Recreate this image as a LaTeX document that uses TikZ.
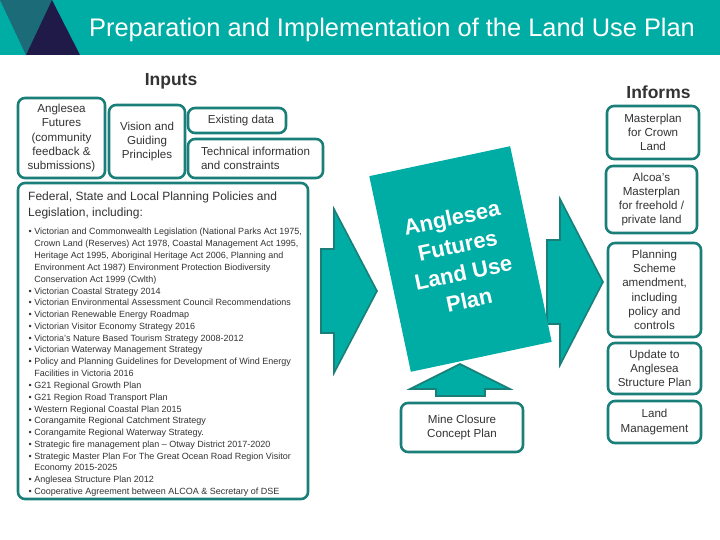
\documentclass[tikz,border=0pt]{standalone}
\usepackage{fontspec}
\setmainfont{Liberation Sans}
\usepackage{xcolor}
\usepackage{tikz}
\usetikzlibrary{shapes}
\usetikzlibrary{calc}
\definecolor{lutteal}{HTML}{00ADA5}
\definecolor{lutline}{HTML}{1A7F78}
\definecolor{lutdark}{HTML}{1B6B78}
\definecolor{lutnavy}{HTML}{1F1A47}
\definecolor{luttext}{HTML}{333333}
\newcommand{\fsz}[2]{\fontsize{#1}{#2}\selectfont}

\begin{document}
\begin{tikzpicture}[
  x=1pt, y=-1pt,
  inbox/.style 2 args={
    rectangle,
    rounded corners=7pt,
    draw=lutline,
    line width=2.6pt,
    fill=white,
    text=luttext,
    align=center,
    inner sep=0pt,
    font=\fsz{11.6}{14.3},
    minimum width=#1,
    minimum height=#2},
  blk/.style={
    fill=lutteal,
    draw=lutline,
    line width=1.6pt,
    line join=miter},
  colhead/.style={
    font=\fsz{17.5}{20}\bfseries,
    text=luttext},
]

  \useasboundingbox (0,0) rectangle (720,540);

  % Title band
  \fill[lutteal] (0,0) rectangle (720,55);
  \fill[lutdark] (0,0) -- (52,0) -- (26,55) -- cycle;
  \fill[lutnavy] (52,0) -- (80,55) -- (26,55) -- cycle;
  \node[anchor=base west, text=white, font=\fsz{25.4}{30}, inner sep=0pt]
      (title) at (89,37) {Preparation and Implementation of the Land Use Plan};

  % Inputs
  \node[colhead] (inputs) at (171,81) {Inputs};
  \node[inbox={87pt}{80pt}] (futures) at (61.5,138)
      {Anglesea\\Futures\\(community\\feedback \&\\submissions)};
  \node[inbox={76pt}{73pt}] (vision) at (147,141.5)
      {Vision and\\Guiding\\Principles};
  \node[inbox={98pt}{25pt}] (existing) at (237,120.5) {\hspace{8pt}Existing data};
  \node[inbox={135pt}{39pt}, align=left] (technical) at (255.5,158.5)
      {Technical information\\and constraints};

  \node[inbox={290pt}{316pt}] (fedbox) at (163,341) {};
  \node[anchor=base west, text=luttext, align=left, font=\fsz{12}{17}, inner sep=0pt]
      (fedhead) at (28,217)
      {Federal, State and Local Planning Policies and\\Legislation, including:};
  \node[anchor=base west, text=luttext, inner sep=0pt] (fedlist) at (28.5,235) {%
    \fsz{9}{11.8}%
    \begin{tabular}[t]{@{}l@{\hspace{2.5pt}}l@{}}
    \textbullet & Victorian and Commonwealth Legislation (National Parks Act 1975,\\
      & Crown Land (Reserves) Act 1978, Coastal Management Act 1995,\\
      & Heritage Act 1995, Aboriginal Heritage Act 2006, Planning and\\
      & Environment Act 1987) Environment Protection Biodiversity\\
      & Conservation Act 1999 (Cwlth)\\
    \textbullet & Victorian Coastal Strategy 2014\\
    \textbullet & Victorian Environmental Assessment Council Recommendations\\
    \textbullet & Victorian Renewable Energy Roadmap\\
    \textbullet & Victorian Visitor Economy Strategy 2016\\
    \textbullet & Victoria's Nature Based Tourism Strategy 2008-2012\\
    \textbullet & Victorian Waterway Management Strategy\\
    \textbullet & Policy and Planning Guidelines for Development of Wind Energy\\
      & Facilities in Victoria 2016\\
    \textbullet & G21 Regional Growth Plan\\
    \textbullet & G21 Region Road Transport Plan\\
    \textbullet & Western Regional Coastal Plan 2015\\
    \textbullet & Corangamite Regional Catchment Strategy\\
    \textbullet & Corangamite Regional Waterway Strategy.\\
    \textbullet & Strategic fire management plan -- Otway District 2017-2020\\
    \textbullet & Strategic Master Plan For The Great Ocean Road Region Visitor\\
      & Economy 2015-2025\\
    \textbullet & Anglesea Structure Plan 2012\\
    \textbullet & Cooperative Agreement between ALCOA \& Secretary of DSE
    \end{tabular}};

  % Block arrows
  \draw[blk] (321,249) -- (334,249) -- (334,209) -- (377,291)
      -- (334,373) -- (334,333) -- (321,333) -- cycle;
  \draw[blk] (547,240) -- (560,240) -- (560,199) -- (603,282)
      -- (560,365) -- (560,324) -- (547,324) -- cycle;
  \draw[blk] (436,396) -- (436,389) -- (410,389) -- (460,364)
      -- (510,389) -- (485,389) -- (485,396) -- cycle;

  % Land use plan
  \node[rotate=12, fill=lutteal, minimum width=144pt, minimum height=200pt,
      text=white, align=center, font=\fsz{22}{28}\bfseries]
      (plan) at (460.5,259) {Anglesea\\Futures\\Land Use\\Plan};

  \node[inbox={122pt}{49pt}] (mine) at (462,427.5) {Mine Closure\\Concept Plan};

  % Informs
  \node[colhead] (informs) at (658.5,92.5) {Informs};
  \foreach \nm/\cx/\cy/\bw/\bh/\lbl in {
      crown/653/132.5/92/53/{Masterplan\\for Crown\\Land},
      alcoa/651.5/199.5/91/67/{Alcoa's\\Masterplan\\for freehold /\\private land},
      scheme/654.5/290/93/94/{Planning\\Scheme\\amendment,\\including\\policy and\\controls},
      update/654.5/368.5/93/51/{Update to\\Anglesea\\Structure Plan},
      landmgmt/654.5/422/93/42/{Land\\Management}} {
    \node[inbox={\bw pt}{\bh pt}] (inf_\nm) at (\cx,\cy) {\lbl};
  }

\end{tikzpicture}
\end{document}
